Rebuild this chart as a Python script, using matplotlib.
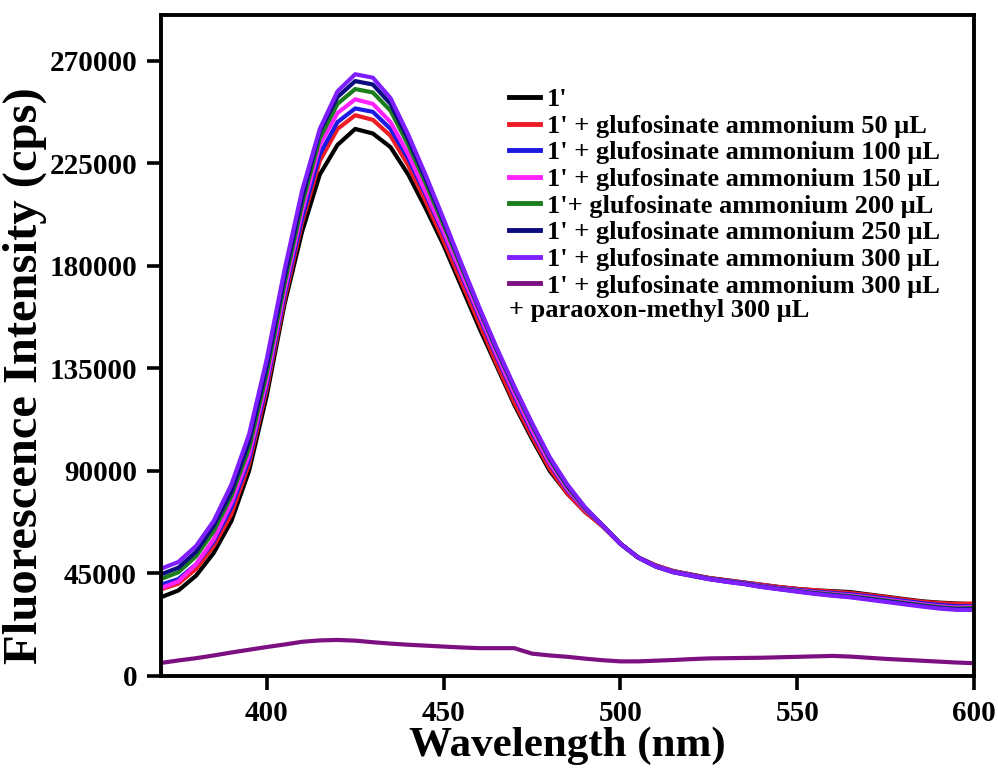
import matplotlib
matplotlib.use('Agg')
from matplotlib import pyplot as plt

plt.rcParams['font.family'] = ['Liberation Serif', 'DejaVu Serif']
plt.rcParams['font.weight'] = 'bold'

wavelength = list(range(370, 601, 5))

blank = [34500, 37500, 44000, 54000, 68000, 90000, 123000, 163000, 195000, 220000,
         233000, 240000, 238000, 232000, 220000, 205000, 189000, 171000, 153000, 136000,
         119000, 104000, 90000, 80000, 72000, 66000, 58000, 52000, 48500, 46000,
         44500, 43000, 42000, 41000, 40000, 39000, 38200, 37600, 37200, 36800,
         35800, 34800, 33800, 32800, 32200, 31800, 31500]
glu_50 = [38000, 40500, 47000, 57000, 71000, 93000, 126000, 165000, 199000, 226000,
          240000, 246000, 244000, 237000, 224000, 208000, 191000, 173000, 155000, 137000,
          120000, 105000, 91000, 80000, 72000, 65500, 58000, 52000, 48500, 46000,
          44500, 43000, 42000, 41000, 40000, 39000, 38200, 37600, 37000, 36400,
          35600, 34600, 33600, 32600, 32000, 31600, 31800]
glu_100 = [40000, 42500, 49000, 59000, 74000, 95000, 128000, 167000, 201000, 229000,
           243000, 249000, 247500, 240000, 227000, 211000, 194000, 176000, 158000, 140000,
           123000, 107000, 93000, 81500, 73000, 66000, 58000, 52000, 48200, 45800,
           44300, 42800, 41800, 40800, 39600, 38600, 37800, 37000, 36400, 35800,
           35000, 34000, 33000, 32000, 31200, 30600, 30600]
glu_150 = [38500, 41500, 49000, 60000, 76000, 97000, 130000, 169000, 204000, 233000,
           247000, 253000, 251000, 243000, 229000, 212000, 195000, 177000, 159000, 141000,
           124000, 108000, 93500, 82000, 73000, 66000, 58000, 52000, 48200, 45800,
           44200, 42700, 41600, 40600, 39400, 38400, 37500, 36700, 36000, 35400,
           34500, 33500, 32500, 31500, 30600, 30000, 30200]
glu_200 = [42500, 45500, 52500, 63500, 79000, 100000, 133000, 172000, 207000, 236000,
           251000, 257500, 256000, 248000, 233000, 216000, 198000, 179500, 161000, 143000,
           126000, 110000, 95000, 83000, 73500, 66000, 58000, 52000, 48000, 45600,
           44100, 42600, 41500, 40500, 39200, 38200, 37300, 36400, 35700, 35000,
           34100, 33100, 32100, 31100, 30200, 29600, 29800]
glu_250 = [44500, 47500, 54500, 66000, 81000, 103000, 136000, 175000, 210000, 239000,
           254000, 261000, 259500, 251000, 235500, 218000, 199500, 180500, 161500, 143500,
           126500, 110500, 95500, 83500, 73800, 66000, 58000, 52000, 48000, 45500,
           44000, 42500, 41400, 40400, 39100, 38100, 37100, 36200, 35400, 34700,
           33800, 32800, 31800, 30800, 29900, 29300, 29400]
glu_300 = [47000, 50000, 57000, 68000, 84000, 106000, 139000, 178000, 213000, 240000,
           256500, 264000, 262500, 253500, 237500, 219500, 200500, 181000, 162000, 144000,
           127000, 111000, 96000, 84000, 74000, 66000, 58000, 52000, 48000, 45500,
           44000, 42500, 41300, 40300, 39000, 38000, 37000, 36000, 35200, 34500,
           33500, 32500, 31500, 30500, 29600, 29000, 29000]
glu_300_pm = [5700, 6800, 7800, 9000, 10300, 11500, 12700, 13800, 15000, 15600,
              15800, 15500, 14800, 14200, 13700, 13300, 12900, 12500, 12200, 12200,
              12200, 9800, 9000, 8400, 7600, 6900, 6400, 6400, 6700, 7000,
              7400, 7700, 7800, 7900, 8000, 8200, 8400, 8600, 8800, 8500,
              8000, 7500, 7100, 6700, 6300, 5900, 5600]

series = [blank, glu_50, glu_100, glu_150, glu_200, glu_250, glu_300, glu_300_pm]
labels = ["1'",
          "1' + glufosinate ammonium 50 μL",
          "1' + glufosinate ammonium 100 μL",
          "1' + glufosinate ammonium 150 μL",
          "1'+ glufosinate ammonium 200 μL",
          "1' + glufosinate ammonium 250 μL",
          "1' + glufosinate ammonium 300 μL",
          "1' + glufosinate ammonium 300 μL"]
colors = ['#000000', '#ee1c24', '#1a1ae0', '#ff22ff', '#1b7d1b', '#0c0c80', '#7f1fff', '#7d1080']

fig = plt.figure(figsize=(9.98, 7.72), dpi=100)
ax = fig.add_axes([0.161, 0.1244, 0.815, 0.8562])

for y, lab, c in zip(series, labels, colors):
    ax.plot(wavelength, y, color=c, linewidth=3, label=lab)

ax.set_xlim(370, 600)
ax.set_ylim(0, 290000)
ax.set_xticks([400, 450, 500, 550, 600])
ax.set_yticks([0, 45000, 90000, 135000, 180000, 225000, 270000])
ax.tick_params(direction='out', length=10, width=2.6, labelsize=21, pad=7)
for s in ax.spines.values():
    s.set_linewidth(2.8)

ax.set_xlabel('Wavelength (nm)', fontsize=31, fontweight='bold', labelpad=0)
ax.set_ylabel('Fluorescence Intensity (cps)', fontsize=35, fontweight='bold')
ax.yaxis.set_label_coords(-0.14, 0.455)

leg = ax.legend(loc='upper left', bbox_to_anchor=(0.428, 0.89), frameon=False,
                fontsize=19, handlelength=1.2, handletextpad=0.25, labelspacing=0.12,
                borderpad=0, borderaxespad=0)
for line in leg.get_lines():
    line.set_linewidth(3.5)
ax.text(0.428, 0.553, '+ paraoxon-methyl 300 μL', transform=ax.transAxes,
        fontsize=19, fontweight='bold', va='center', ha='left')

fig.savefig('out.png', dpi=100)
